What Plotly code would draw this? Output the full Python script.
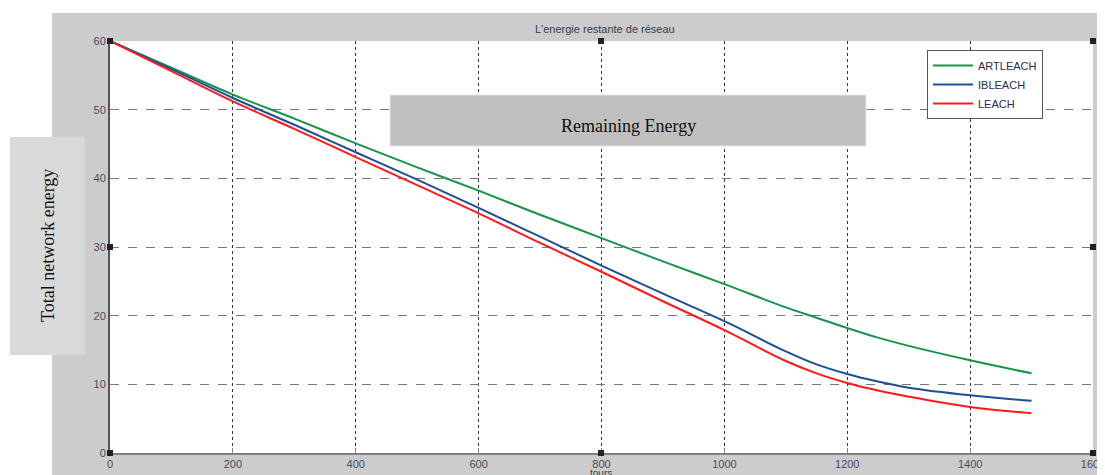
import plotly.graph_objects as go

rounds = [0, 100, 200, 300, 400, 500, 600, 700, 800, 900, 1000, 1100, 1150, 1200, 1250, 1300, 1400, 1500]
artleach = [60, 56.1, 52.2, 48.7, 45.1, 41.6, 38.2, 34.7, 31.3, 27.9, 24.6, 21.2, 19.7, 18.2, 16.8, 15.6, 13.5, 11.6]
ibleach = [60, 55.9, 51.7, 47.8, 43.8, 39.8, 35.7, 31.5, 27.3, 23.2, 19.2, 14.8, 12.9, 11.5, 10.4, 9.5, 8.4, 7.6]
leach = [60, 55.6, 51.2, 47.2, 43.1, 39.0, 34.9, 30.6, 26.4, 22.1, 17.9, 13.4, 11.6, 10.2, 9.1, 8.2, 6.7, 5.8]

x_ticks = [0, 200, 400, 600, 800, 1000, 1200, 1400, 1600]
y_ticks = [0, 10, 20, 30, 40, 50, 60]

fig = go.Figure()
fig.add_trace(go.Scatter(x=rounds, y=artleach, name="ARTLEACH", mode="lines",
                         line=dict(color="#17934a", width=2, shape="spline")))
fig.add_trace(go.Scatter(x=rounds, y=ibleach, name="IBLEACH", mode="lines",
                         line=dict(color="#1f4e96", width=2, shape="spline")))
fig.add_trace(go.Scatter(x=rounds, y=leach, name="LEACH", mode="lines",
                         line=dict(color="#ff1a1a", width=2, shape="spline")))

OFF = 8  # default body margin of the html page
W, H = 1105 - OFF, 475 - OFF
# plot area in page pixels: x 110..1093, y 41..453
L, T = 110 - OFF, 41 - OFF
pw, ph = 983, 412
R, B = W - L - pw, H - T - ph

def px(x):
    return (x - OFF - L) / pw

def py(y):
    return (T + ph - (y - OFF)) / ph

shapes = [
    dict(type="rect", xref="paper", yref="paper", layer="below",
         x0=px(52), x1=px(1110), y0=py(480), y1=py(13),
         fillcolor="#cccccc", line=dict(width=0)),
    dict(type="rect", xref="paper", yref="paper", layer="below",
         x0=0, x1=1, y0=0, y1=1, fillcolor="white", line=dict(width=0)),
    dict(type="rect", xref="paper", yref="paper", layer="above",
         x0=px(10), x1=px(85), y0=py(355), y1=py(137),
         fillcolor="#d9d9d9", line=dict(width=0)),
    dict(type="rect", xref="paper", yref="paper", layer="above",
         x0=px(390), x1=px(866), y0=py(146), y1=py(95),
         fillcolor="#bfbfbf", line=dict(color="#e6e6e6", width=1)),
]
for hx, hy in [(110, 41), (601, 41), (1093, 41), (110, 453), (601, 453), (1093, 453), (110, 247), (1093, 247)]:
    shapes.append(dict(type="rect", xref="paper", yref="paper", layer="above",
                       x0=px(hx - 3), x1=px(hx + 3), y0=py(hy + 3), y1=py(hy - 3),
                       fillcolor="#222222", line=dict(width=0)))

annotations = [
    dict(text="L'energie restante de réseau", xref="paper", yref="paper",
         x=px(605), y=py(29), xanchor="center", yanchor="middle", showarrow=False,
         font=dict(family="Liberation Sans, Arial", size=11, color="#3a3a4a")),
    dict(text="Remaining Energy", xref="paper", yref="paper",
         x=px(628), y=py(126), xanchor="center", yanchor="middle", showarrow=False,
         font=dict(family="Liberation Serif, Times New Roman", size=18, color="#111111")),
    dict(text="Total network energy", xref="paper", yref="paper",
         x=px(48), y=py(246), xanchor="center", yanchor="middle", showarrow=False, textangle=-90,
         font=dict(family="Liberation Serif, Times New Roman", size=18, color="#111111")),
    dict(text="tours", xref="paper", yref="paper",
         x=px(601), y=py(466), xanchor="center", yanchor="top", showarrow=False,
         font=dict(family="Liberation Sans, Arial", size=10, color="#3a3a4a")),
]

tickfont = dict(family="Liberation Sans, Arial", size=11, color="#4a4a5a")

fig.update_layout(
    width=W, height=H,
    margin=dict(l=L, r=R, t=T, b=B, autoexpand=False),
    paper_bgcolor="white",
    plot_bgcolor="rgba(0,0,0,0)",
    shapes=shapes,
    annotations=annotations,
    showlegend=True,
    legend=dict(x=px(927), y=py(50), xanchor="left", yanchor="top",
                bgcolor="white", bordercolor="#555555", borderwidth=1,
                font=dict(family="Liberation Sans, Arial", size=11, color="#2a2a50"),
                tracegroupgap=0, itemwidth=40),
    xaxis=dict(range=[0, 1600], tickvals=x_ticks, ticktext=[str(v) for v in x_ticks],
               showgrid=True, gridcolor="#333333", griddash="dot", gridwidth=1,
               showline=True, linecolor="#808080", linewidth=2, mirror=False,
               ticks="inside", ticklen=5, tickcolor="#808080", zeroline=False,
               tickfont=tickfont, ticklabeloverflow="allow", fixedrange=True),
    yaxis=dict(range=[0, 60], tickvals=y_ticks, ticktext=[str(v) for v in y_ticks],
               showgrid=True, gridcolor="#777777", griddash="dash", gridwidth=1,
               showline=True, linecolor="#555555", linewidth=2,
               ticks="inside", ticklen=5, tickcolor="#808080", zeroline=False,
               tickfont=tickfont, ticklabeloverflow="allow", fixedrange=True),
)

fig.write_html("out.html")
